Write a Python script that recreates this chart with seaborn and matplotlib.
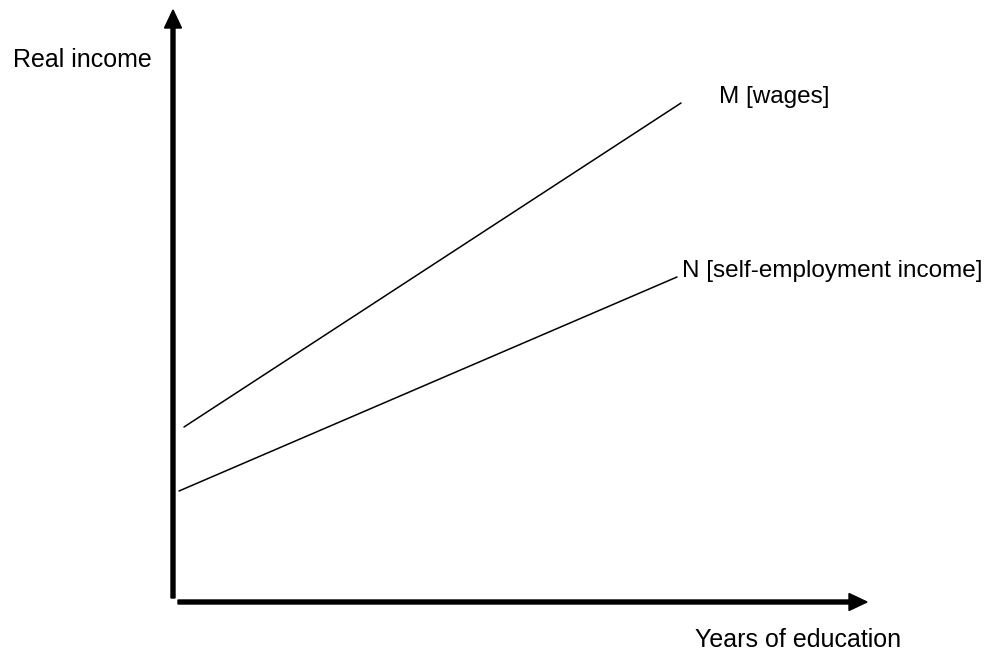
import matplotlib
matplotlib.use("Agg")
import matplotlib.pyplot as plt
import seaborn as sns
import pandas as pd

sns.set_theme(style="white")
plt.rcParams['font.family'] = ['Liberation Sans', 'DejaVu Sans']

# Data (arbitrary units: years of education vs real income)
m_education = [0.22, 10.16]
m_income = [3.50, 9.98]
n_education = [0.12, 10.08]
n_income = [2.22, 6.50]
series_labels = ["M [wages]", "N [self-employment income]"]
x_title = "Years of education"
y_title = "Real income"

df = pd.DataFrame({
    "education": m_education + n_education,
    "income": m_income + n_income,
    "series": [series_labels[0]] * len(m_education) + [series_labels[1]] * len(n_education),
})

fig = plt.figure(figsize=(9.91, 6.56), dpi=100)
ax = fig.add_axes([0, 0, 1, 1])
sns.lineplot(data=df, x="education", y="income", hue="series",
             palette=["black", "black"], linewidth=1.1, legend=False, ax=ax)

ax.set_xlim(-3.46, 16.36)
ax.set_ylim(-1.08, 12.04)
ax.axis("off")

# Axes arrows
ax.arrow(0, 0.08, 0, 11.76, width=0.08, head_width=0.34, head_length=0.36,
         length_includes_head=True, color="black")
ax.arrow(0.10, 0, 13.78, 0, width=0.08, head_width=0.34, head_length=0.36,
         length_includes_head=True, color="black")

fs = 17.5
ax.text(-3.2, 10.7, y_title, fontsize=18, ha="left", va="baseline", color="black")
ax.text(10.44, -0.9, x_title, fontsize=18, ha="left", va="baseline", color="black")
ax.text(10.92, 9.98, series_labels[0], fontsize=fs, ha="left", va="baseline", color="black")
ax.text(10.18, 6.50, series_labels[1], fontsize=fs, ha="left", va="baseline", color="black")

fig.savefig("out.png", dpi=100, facecolor="white")
